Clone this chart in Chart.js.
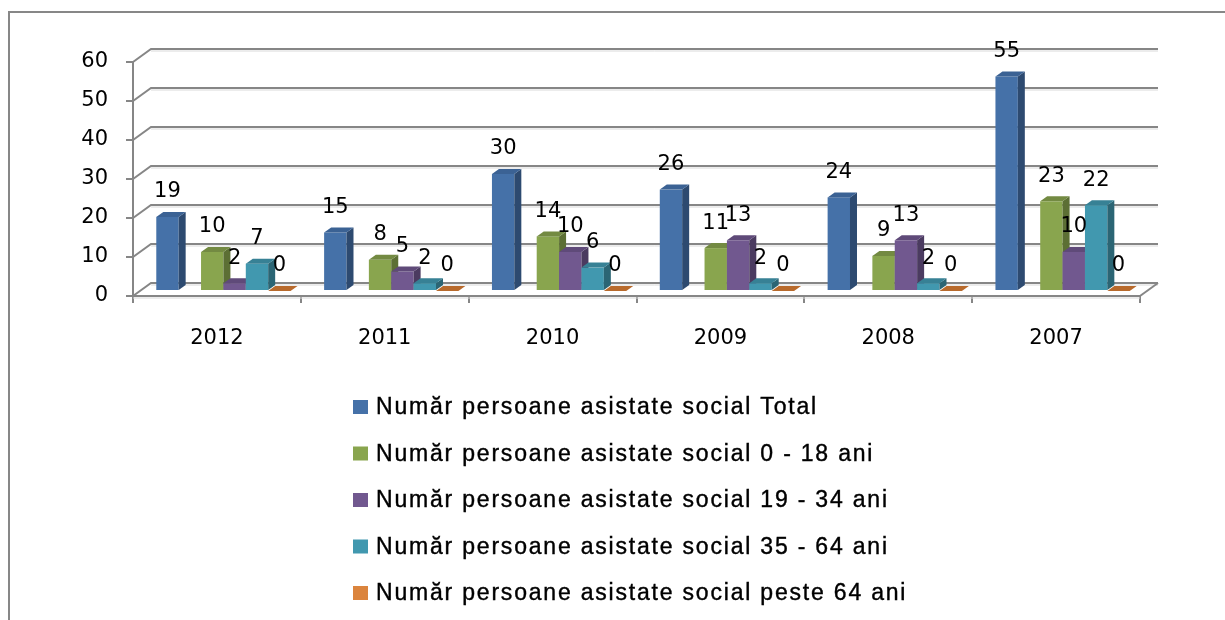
<!DOCTYPE html>
<html>
<head>
<meta charset="utf-8">
<script src="https://cdn.jsdelivr.net/npm/chart.js@4.4.0/dist/chart.umd.min.js"></script>
<style>
  html, body { margin: 0; padding: 0; background: #fff; }
</style>
</head>
<body>
<canvas id="chart" width="1225" height="620"></canvas>
<script>
// Data
const years = ['2012', '2011', '2010', '2009', '2008', '2007'];
const total = [19, 15, 30, 26, 24, 55];
const age0to18 = [10, 8, 14, 11, 9, 23];
const age19to34 = [2, 5, 10, 13, 13, 10];
const age35to64 = [7, 2, 6, 2, 2, 22];
const over64 = [0, 0, 0, 0, 0, 0];
const emptySlot = [null, null, null, null, null, null]; // blank series in the original sheet
const yTicks = [0, 10, 20, 30, 40, 50, 60];

// Colours: front, top, side
const blue = ['#4571a8', '#3b6294', '#2d4a70'];
const green = ['#89a54e', '#738a42', '#5c6f34'];
const purple = ['#71588f', '#5f4a79', '#4b3b60'];
const teal = ['#4198af', '#378195', '#2b6574'];
const orange = ['#db843d', '#b86a2c', '#9c5a26'];

// 3D geometry (pixels)
const DX = 18, DY = -13;         // depth of floor and back wall
const SX = 6.5, SY = -5;         // bars sit a little behind the front edge
const BX = 7, BY = -5;           // depth of one bar

function line(ctx, x1, y1, x2, y2) {
    ctx.beginPath();
    ctx.moveTo(x1, y1);
    ctx.lineTo(x2, y2);
    ctx.stroke();
}

const frame3d = {
    id: 'frame3d',
    beforeDraw(chart) {
        const ctx = chart.ctx;
        ctx.save();
        ctx.fillStyle = '#fff';
        ctx.fillRect(0, 0, chart.width, chart.height);
        ctx.strokeStyle = '#878787';
        ctx.lineWidth = 2;
        ctx.beginPath();
        ctx.moveTo(9, chart.height);
        ctx.lineTo(9, 12);
        ctx.lineTo(chart.width, 12);
        ctx.stroke();
        ctx.restore();
    },
    beforeDatasetsDraw(chart) {
        const ctx = chart.ctx;
        const a = chart.chartArea;
        const y = chart.scales.y;
        ctx.save();

        // back wall gridlines + left wall diagonals
        y.ticks.forEach(function(t) {
            const py = y.getPixelForValue(t.value);
            ctx.strokeStyle = '#d9d9d9';
            ctx.lineWidth = 1;
            line(ctx, a.left + DX, py + DY + 2, a.right + DX, py + DY + 2);
            ctx.strokeStyle = '#868686';
            ctx.lineWidth = 2;
            ctx.beginPath();
            ctx.moveTo(a.left, py);
            ctx.lineTo(a.left + DX, py + DY);
            ctx.lineTo(a.right + DX, py + DY);
            ctx.stroke();
        });
        const y0 = y.getPixelForValue(0);
        ctx.strokeStyle = '#d9d9d9';
        ctx.lineWidth = 1;
        line(ctx, a.left, y0 + 2, a.right, y0 + 2);
        ctx.strokeStyle = '#868686';
        ctx.lineWidth = 2;
        line(ctx, a.right, y0, a.right + DX, y0 + DY);

        // bars, drawn series by series so the next bar covers the previous side face
        chart.data.datasets.forEach(function(ds, i) {
            const meta = chart.getDatasetMeta(i);
            meta.data.forEach(function(el, j) {
                if (ds.data[j] === null) return;
                const c = ds.faces;
                const l = el.x - el.width / 2 + SX;
                const r = el.x + el.width / 2 + SX;
                const top = el.y + SY;
                const base = el.base + SY;
                // front
                if (base - top > 0) {
                    ctx.fillStyle = c[0];
                    ctx.fillRect(l, top, r - l, base - top);
                    // side
                    ctx.fillStyle = c[2];
                    ctx.beginPath();
                    ctx.moveTo(r, top);
                    ctx.lineTo(r + BX, top + BY);
                    ctx.lineTo(r + BX, base + BY);
                    ctx.lineTo(r, base);
                    ctx.closePath();
                    ctx.fill();
                }
                // top
                ctx.fillStyle = c[1];
                ctx.beginPath();
                ctx.moveTo(l, top);
                ctx.lineTo(r, top);
                ctx.lineTo(r + BX, top + BY);
                ctx.lineTo(l + BX, top + BY);
                ctx.closePath();
                ctx.fill();
            });
        });

        // value labels
        ctx.fillStyle = '#000';
        ctx.font = '21px "DejaVu Sans"';
        ctx.textAlign = 'center';
        ctx.textBaseline = 'middle';
        chart.data.datasets.forEach(function(ds, i) {
            const meta = chart.getDatasetMeta(i);
            meta.data.forEach(function(el, j) {
                if (ds.data[j] === null) return;
                ctx.fillText(String(ds.data[j]), el.x + SX, el.y + SY - 25);
            });
        });

        ctx.restore();
        return false;
    },
    afterDraw(chart) {
        // legend in one column under the plot
        const ctx = chart.ctx;
        ctx.save();
        ctx.font = '23px "Liberation Sans"';
        ctx.letterSpacing = '1.8px';
        ctx.textAlign = 'left';
        ctx.textBaseline = 'middle';
        ctx.strokeStyle = '#000';
        ctx.lineWidth = 0.4;
        let k = 0;
        chart.data.datasets.forEach(function(ds) {
            if (!ds.label) return;
            const cy = 407 + k * 46.5;
            ctx.fillStyle = ds.backgroundColor;
            ctx.fillRect(353, cy - 7, 15, 14);
            ctx.fillStyle = '#000';
            ctx.fillText(ds.label, 376, cy + 1);
            ctx.strokeText(ds.label, 376, cy + 1);
            k++;
        });
        ctx.restore();
    }
};

function series(label, values, faces) {
    return { label: label, data: values, backgroundColor: faces ? faces[0] : 'rgba(0,0,0,0)', faces: faces };
}

const tickFont = { family: 'DejaVu Sans', size: 21 };

new Chart(document.getElementById('chart'), {
    type: 'bar',
    data: {
        labels: years,
        datasets: [
            series('Număr persoane asistate social Total', total, blue),
            series('', emptySlot, null),
            series('Număr persoane asistate social 0 - 18 ani', age0to18, green),
            series('Număr persoane asistate social 19 - 34 ani', age19to34, purple),
            series('Număr persoane asistate social 35 - 64 ani', age35to64, teal),
            series('Număr persoane asistate social peste 64 ani', over64, orange)
        ]
    },
    options: {
        responsive: false,
        animation: false,
        devicePixelRatio: 1,
        layout: { padding: { top: 62, right: 85, left: 0, bottom: 0 } },
        datasets: { bar: { categoryPercentage: 0.8, barPercentage: 1 } },
        plugins: {
            legend: { display: false },
            tooltip: { enabled: false }
        },
        scales: {
            x: {
                grid: { offset: true, drawOnChartArea: false, tickLength: 7, color: '#868686', lineWidth: 2 },
                border: { display: true, color: '#868686', width: 2 },
                ticks: { font: tickFont, color: '#000', padding: 23, maxRotation: 0, autoSkip: false },
                afterFit: function(s) { s.height = 324; }
            },
            y: {
                min: 0,
                max: 60,
                afterBuildTicks: function(s) { s.ticks = yTicks.map(function(v) { return { value: v }; }); },
                grid: { drawOnChartArea: false, tickLength: 7, color: '#868686', lineWidth: 2 },
                border: { display: true, color: '#868686', width: 2 },
                ticks: { font: tickFont, color: '#000', padding: 18 },
                afterFit: function(s) { s.width = 133; }
            }
        }
    },
    plugins: [frame3d]
});
</script>
</body>
</html>
